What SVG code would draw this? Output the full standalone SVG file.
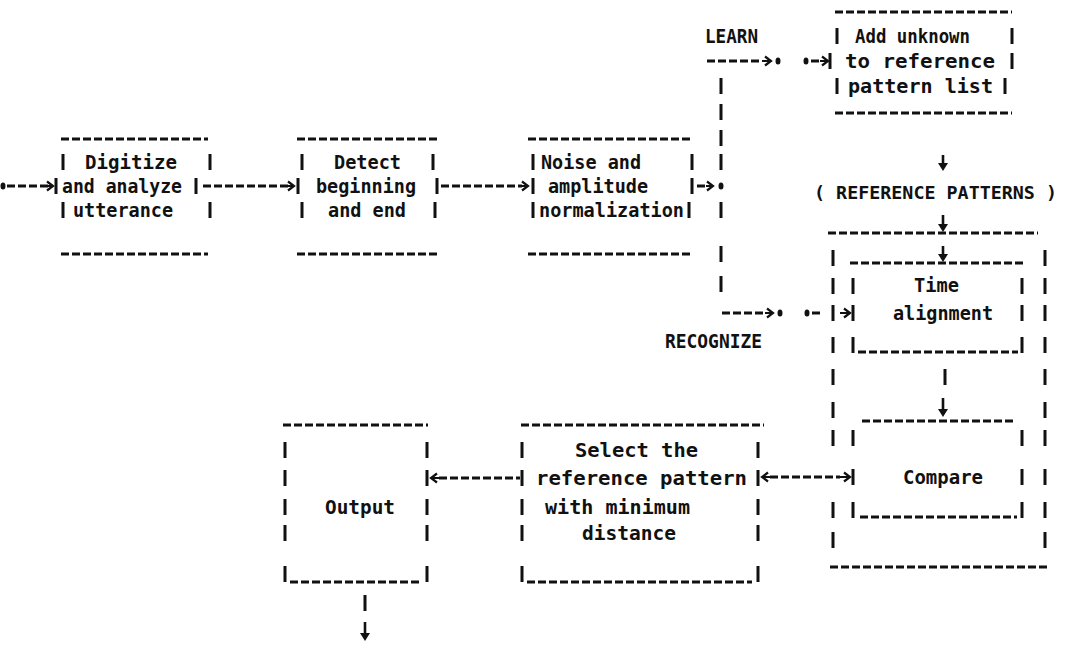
<svg xmlns="http://www.w3.org/2000/svg" width="1066" height="648" viewBox="0 0 1066 648">
<style>
.bg{fill:#fff}
.d{stroke:#111;stroke-width:3;stroke-dasharray:8 3;fill:none}
.v{stroke:#111;stroke-width:3;fill:none}
.a{stroke:#111;stroke-width:2.2;fill:none}
.dn{stroke:#111;stroke-width:2.6;fill:none}
.hd{fill:#111}
.dot{fill:#111}
.t{font-family:"DejaVu Sans Mono","Liberation Mono",monospace;font-size:19px;font-weight:bold;fill:#111}
.s{font-size:18.5px}
</style>
<rect class="bg" x="0" y="0" width="1066" height="648"/>

<g id="n-digitize">
<line class="d" x1="61" y1="139" x2="208" y2="139"/>
<path class="v" d="M63 154v16M63 202v16M56 178v16M210 154v16M210 202v16M196 178v16"/>
<line class="d" x1="61" y1="254" x2="208" y2="254"/>
<text class="t" x="85" y="169" textLength="92" lengthAdjust="spacingAndGlyphs">Digitize</text>
<text class="t" x="62" y="193" textLength="120" lengthAdjust="spacingAndGlyphs">and analyze</text>
<text class="t" x="73" y="217" textLength="100" lengthAdjust="spacingAndGlyphs">utterance</text>
</g>

<g id="n-detect">
<line class="d" x1="297" y1="139" x2="440" y2="139"/>
<path class="v" d="M302 154v16M302 202v16M298 178v16M433 154v16M437 178v16M435 202v16"/>
<line class="d" x1="297" y1="254" x2="440" y2="254"/>
<text class="t" x="334" y="169" textLength="67" lengthAdjust="spacingAndGlyphs">Detect</text>
<text class="t" x="316" y="193" textLength="100" lengthAdjust="spacingAndGlyphs">beginning</text>
<text class="t" x="328" y="217" textLength="78" lengthAdjust="spacingAndGlyphs">and end</text>
</g>

<g id="n-noise">
<line class="d" x1="528" y1="139" x2="693" y2="139"/>
<path class="v" d="M533 154v16M533 178v16M533 202v16M692 154v16M692 178v16M689 202v16"/>
<line class="d" x1="528" y1="254" x2="693" y2="254"/>
<text class="t" x="541" y="169" textLength="100" lengthAdjust="spacingAndGlyphs">Noise and</text>
<text class="t" x="548" y="193" textLength="100" lengthAdjust="spacingAndGlyphs">amplitude</text>
<text class="t" x="539" y="217" textLength="145" lengthAdjust="spacingAndGlyphs">normalization</text>
</g>

<g id="n-add">
<line class="d" x1="835" y1="12" x2="1012" y2="12"/>
<path class="v" d="M837 28v16M837 78v16M830 53v16M1012 28v16M1012 53v16M1005 78v16"/>
<line class="d" x1="835" y1="113" x2="1012" y2="113"/>
<text class="t" x="855" y="43" textLength="115" lengthAdjust="spacingAndGlyphs">Add unknown</text>
<text class="t" x="845" y="68" textLength="150" lengthAdjust="spacingAndGlyphs">to reference</text>
<text class="t" x="848" y="93" textLength="145" lengthAdjust="spacingAndGlyphs">pattern list</text>
</g>

<g id="n-refpatterns">
<text class="t s" x="814" y="199" textLength="243" lengthAdjust="spacingAndGlyphs">( REFERENCE PATTERNS )</text>
</g>

<g id="n-matcher">
<line class="d" x1="828" y1="233" x2="1038" y2="233"/>
<path class="v" d="M833 250v16M833 278v16M833 305v16M833 337v16M833 369v16M833 402v16M833 430v16M833 502v16M833 532v16M1045 250v16M1045 278v16M1045 305v16M1045 337v16M1045 369v16M1045 402v16M1045 430v16M1045 469v16M1045 502v16M1045 532v16"/>
<line class="d" x1="830" y1="567" x2="1050" y2="567"/>
</g>

<g id="n-time">
<line class="d" x1="850" y1="263" x2="1026" y2="263"/>
<path class="v" d="M853 278v16M853 305v16M853 337v16M1022 278v16M1022 305v16M1022 337v16"/>
<line class="d" x1="858" y1="352" x2="1018" y2="352"/>
<text class="t" x="914" y="292" textLength="45" lengthAdjust="spacingAndGlyphs">Time</text>
<text class="t" x="893" y="320" textLength="100" lengthAdjust="spacingAndGlyphs">alignment</text>
</g>

<g id="n-compare">
<line class="d" x1="862" y1="421" x2="1013" y2="421"/>
<path class="v" d="M853 430v16M853 469v16M853 502v16M1022 430v16M1022 469v16M1022 502v16"/>
<line class="d" x1="860" y1="517" x2="1017" y2="517"/>
<text class="t" x="903" y="484" textLength="80" lengthAdjust="spacingAndGlyphs">Compare</text>
</g>

<g id="n-select">
<line class="d" x1="521" y1="425" x2="764" y2="425"/>
<path class="v" d="M522 442v16M522 470v16M522 499v16M522 525v16M522 566v16M758 442v16M758 470v16M758 499v16M758 525v16M758 566v16"/>
<line class="d" x1="527" y1="582" x2="752" y2="582"/>
<text class="t" x="575" y="457" textLength="123" lengthAdjust="spacingAndGlyphs">Select the</text>
<text class="t" x="536" y="485" textLength="211" lengthAdjust="spacingAndGlyphs">reference pattern</text>
<text class="t" x="545" y="514" textLength="145" lengthAdjust="spacingAndGlyphs">with minimum</text>
<text class="t" x="582" y="540" textLength="94" lengthAdjust="spacingAndGlyphs">distance</text>
</g>

<g id="n-output">
<line class="d" x1="283" y1="425" x2="428" y2="425"/>
<path class="v" d="M285 442v16M285 470v16M285 499v16M285 525v16M285 566v16M427 442v16M427 470v16M427 499v16M427 525v16M427 566v16"/>
<line class="d" x1="290" y1="582" x2="421" y2="582"/>
<text class="t" x="325" y="514" textLength="70" lengthAdjust="spacingAndGlyphs">Output</text>
</g>

<g id="connectors">
<ellipse class="dot" cx="3" cy="186" rx="2.5" ry="3.5"/>
<line class="d" x1="7" y1="186" x2="48" y2="186"/>
<path class="a" d="M46 186H53M47 181.5L53 186L47 190.5"/>
<line class="d" x1="203" y1="186" x2="289" y2="186"/>
<path class="a" d="M287 186H294M288 181.5L294 186L288 190.5"/>
<line class="d" x1="441" y1="186" x2="522" y2="186"/>
<path class="a" d="M520 186H528M522 181.5L528 186L522 190.5"/>
<line class="d" x1="697" y1="186" x2="705" y2="186"/>
<path class="a" d="M706 186H713M707 181.5L713 186L707 190.5"/>
<ellipse class="dot" cx="721" cy="186" rx="2.5" ry="3.5"/>
<path class="v" d="M721 78v16M721 104v16M721 130v16M721 154v16M721 202v16M721 246v16M721 276v16"/>
<text class="t" x="705" y="43" textLength="53" lengthAdjust="spacingAndGlyphs">LEARN</text>
<line class="d" x1="707" y1="61" x2="762" y2="61"/>
<path class="a" d="M762 61H771M765 56.5L771 61L765 65.5"/>
<ellipse class="dot" cx="778" cy="61" rx="2.5" ry="3.5"/>
<ellipse class="dot" cx="806" cy="61" rx="2.5" ry="3.5"/>
<line class="d" x1="811" y1="61" x2="819" y2="61"/>
<path class="a" d="M820 61H828M822 56.5L828 61L822 65.5"/>
<text class="t" x="665" y="348" textLength="97" lengthAdjust="spacingAndGlyphs">RECOGNIZE</text>
<line class="d" x1="722" y1="313" x2="766" y2="313"/>
<path class="a" d="M765 313H773M767 308.5L773 313L767 317.5"/>
<ellipse class="dot" cx="780" cy="313" rx="2.5" ry="3.5"/>
<ellipse class="dot" cx="807" cy="313" rx="2.5" ry="3.5"/>
<line class="d" x1="812" y1="313" x2="820" y2="313"/>
<path class="a" d="M840 313H850M844 308.5L850 313L844 317.5"/>
<path class="dn" d="M943 155V165"/><path class="hd" d="M938 163L948 163L943 171Z"/>
<path class="dn" d="M943 215V226"/><path class="hd" d="M938 224L948 224L943 232Z"/>
<path class="dn" d="M943 246V256"/><path class="hd" d="M938 254L948 254L943 262Z"/>
<path class="v" d="M945 369v16"/>
<path class="dn" d="M943 398V411"/><path class="hd" d="M938 409L948 409L943 417Z"/>
<path class="a" d="M762 477H770M768 472.5L762 477L768 481.5"/>
<line class="d" x1="770" y1="477" x2="840" y2="477"/>
<path class="a" d="M840 477H850M844 472.5L850 477L844 481.5"/>
<path class="a" d="M431 478H439M437 473.5L431 478L437 482.5"/>
<line class="d" x1="439" y1="478" x2="520" y2="478"/>
<path class="v" d="M365 595v16"/>
<path class="dn" d="M365 622V635"/><path class="hd" d="M360 633L370 633L365 641Z"/>
</g>
</svg>
